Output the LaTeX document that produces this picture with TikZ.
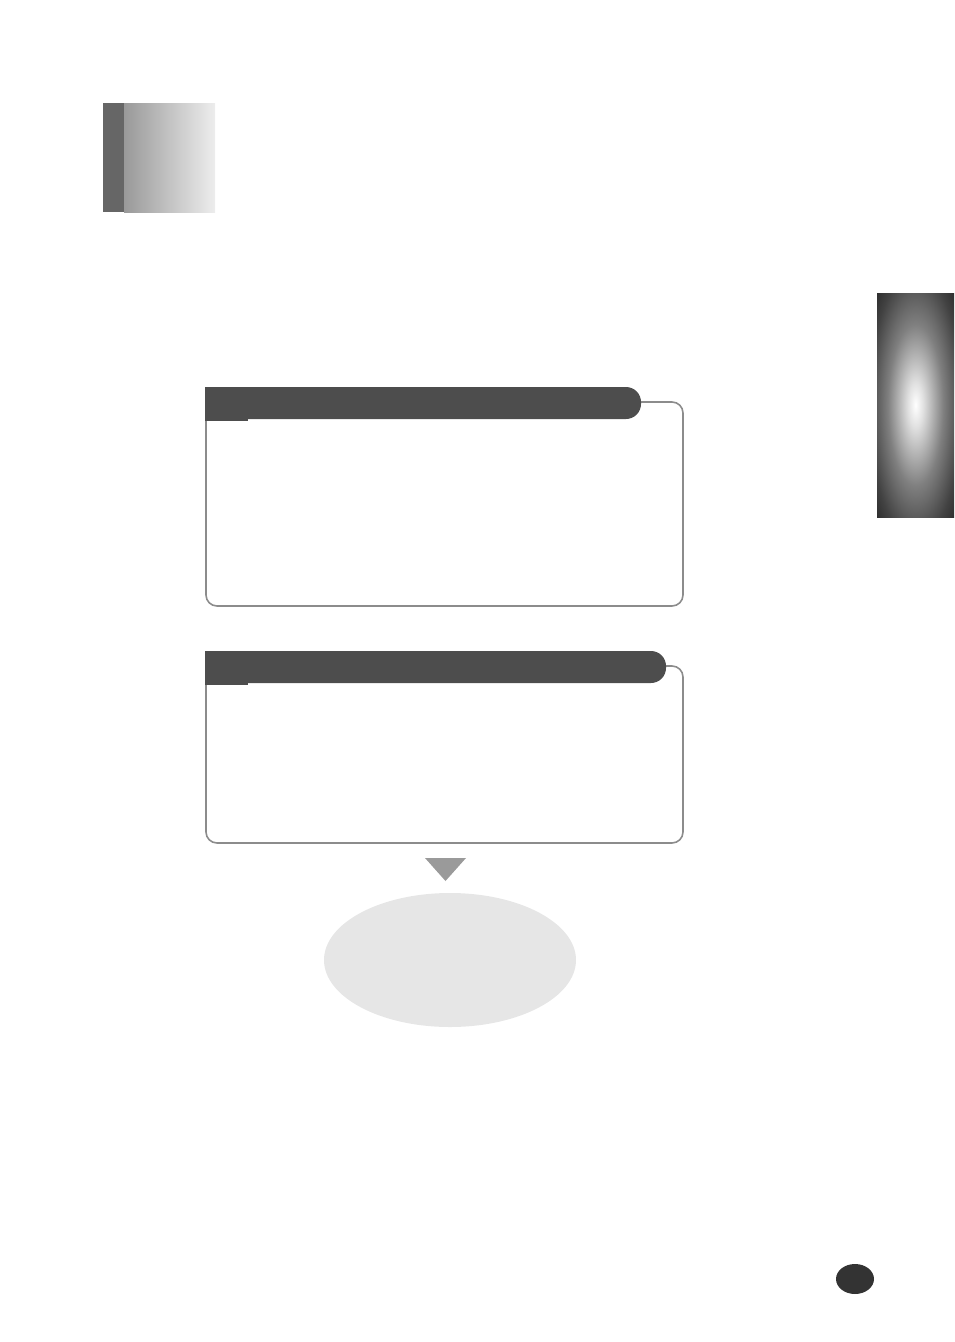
\documentclass[tikz,border=0pt]{standalone}
\usepackage{tikz}
\usetikzlibrary{positioning}

\definecolor{hdrgray}{HTML}{4D4D4D}
\definecolor{linegray}{HTML}{8C8C8C}
\definecolor{ovalgray}{HTML}{E6E6E6}
\definecolor{arrowgray}{HTML}{9A9A9A}
\definecolor{stripgray}{HTML}{666666}
\definecolor{badgegray}{HTML}{333333}

\pgfdeclareradialshading{tabglow}{\pgfpoint{0bp}{0bp}}{color(0bp)=(white); color(5bp)=(white!88!black); color(18bp)=(black!50); color(30bp)=(black!74); color(40bp)=(black!88); color(50bp)=(black)}

\tikzset{every picture/.style={line width=0.75pt}}
\tikzset{
  panel/.style={draw=linegray, line width=1.6pt, rounded corners=11},
  header/.style={fill=hdrgray},
}

\begin{document}
\begin{tikzpicture}[x=1pt,y=1pt,yscale=-1,xscale=1]
		\useasboundingbox (0,0) rectangle (954,1342);
		
		%Shape: Rectangle (corner block)
		\shade[left color=black!40, right color=black!7, shading angle=90] (124,103) rectangle (215,212);
		\fill[stripgray] (103,103) rectangle (124,212);
		
		%Shape: Rectangle (side tab)
		\shade[shading=tabglow] (877,293) rectangle (954,517);
		
		%Shape: Panel 1
		\draw[panel] (641,402) -- (683,402) -- (683,606) -- (206,606) -- (206,410);
		\fill[header] (205,387) [rounded corners=15] -- (641,387) -- (641,419) [sharp corners] -- (205,419) -- cycle;
		\fill[header] (205,417) rectangle (248,420.5);
		
		%Shape: Panel 2
		\draw[panel] (666,666) -- (683,666) -- (683,843) -- (206,843) -- (206,675);
		\fill[header] (205,651) [rounded corners=15] -- (666,651) -- (666,683) [sharp corners] -- (205,683) -- cycle;
		\fill[header] (205,681) rectangle (248,684.5);
		
		%Shape: Triangle
		\fill[arrowgray] (425,858) -- (466,858) -- (445.5,881) -- cycle;
		
		%Shape: Ellipse
		\fill[ovalgray] (450,960) ellipse [x radius=126, y radius=67];
		
		%Shape: Ellipse (page badge)
		\fill[badgegray] (855,1279) ellipse [x radius=19, y radius=15];
		
\end{tikzpicture}
\end{document}
